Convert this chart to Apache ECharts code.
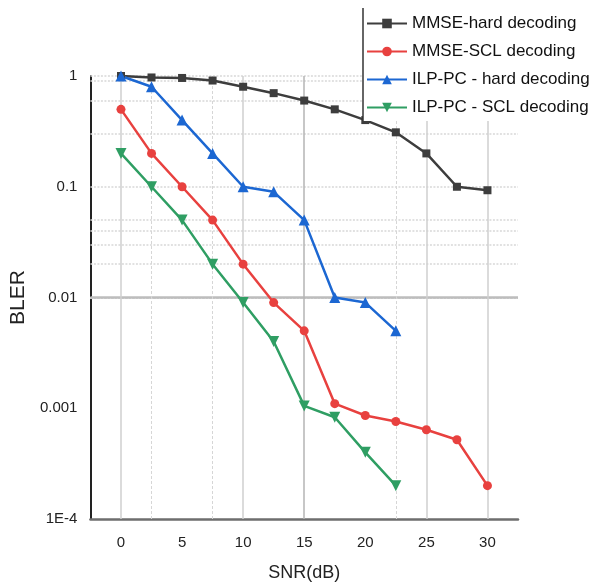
<!DOCTYPE html>
<html>
<head>
<meta charset="utf-8">
<script src="https://cdn.jsdelivr.net/npm/echarts@6/dist/echarts.min.js"></script>
<style>
html,body{margin:0;padding:0;background:#fff;}
#chart{width:613px;height:587px;}
</style>
</head>
<body>
<div id="chart"></div>
<script>
// ---- data ----
var snrLong = [0, 2.5, 5, 7.5, 10, 12.5, 15, 17.5, 20, 22.5, 25, 27.5, 30];
var snrShort = [0, 2.5, 5, 7.5, 10, 12.5, 15, 17.5, 20, 22.5];
var seriesNames = ['MMSE-hard decoding', 'MMSE-SCL decoding', 'ILP-PC - hard decoding', 'ILP-PC - SCL decoding'];
var mmseHard = [1, 0.97, 0.96, 0.91, 0.8, 0.7, 0.6, 0.5, 0.4, 0.31, 0.2, 0.1, 0.093];
var mmseScl = [0.5, 0.2, 0.1, 0.05, 0.02, 0.009, 0.005, 0.0011, 0.00086, 0.00076, 0.00064, 0.00052, 0.0002];
var ilpHard = [1, 0.8, 0.4, 0.2, 0.1, 0.09, 0.05, 0.01, 0.009, 0.005];
var ilpScl = [0.2, 0.1, 0.05, 0.02, 0.009, 0.004, 0.00105, 0.00083, 0.0004, 0.0002];
var yTickLabels = ['1E-4', '0.001', '0.01', '0.1', '1'];
var xTickValues = [0, 5, 10, 15, 20, 25, 30];
// grid reference lines
var hMinorLines = [1, 0.9, 0.6, 0.3, 0.1, 0.05, 0.04, 0.03, 0.02, 0.009, 0.008, 0.007, 0.006, 0.005, 0.003, 0.001];
var hMajorLines = [0.01];
var vSolidLines = [0, 10, 15, 25, 30];
var vDottedLines = [2.5, 7.5, 22.5];

function pairs(xs, ys) { return ys.map(function (v, i) { return [xs[i], v]; }); }

var colors = ['#3d3d3d', '#e8413f', '#1c67d2', '#2f9e63'];

var gridMarks = [];
hMinorLines.forEach(function (v) {
  gridMarks.push({ yAxis: v, lineStyle: { color: '#d8d8d8', width: 1.5, type: [2, 1.5] } });
});
hMajorLines.forEach(function (v) {
  gridMarks.push({ yAxis: v, lineStyle: { color: '#bdbdbd', width: 2.5, type: 'solid' } });
});
vSolidLines.forEach(function (v) {
  gridMarks.push({ xAxis: v, lineStyle: { color: v === 15 ? '#b5b5b5' : '#cfcfcf', width: 1.5, type: 'solid' } });
});
vDottedLines.forEach(function (v) {
  gridMarks.push({ xAxis: v, lineStyle: { color: '#d6d6d6', width: 1, type: [3, 2] } });
});

var chart = echarts.init(document.getElementById('chart'), null, { renderer: 'canvas' });

var lineBase = function (name, data, color, symbol, size) {
  return {
    name: name, type: 'line', data: data, z: 5,
    symbol: symbol, symbolSize: size,
    lineStyle: { color: color, width: 2.5 },
    itemStyle: { color: color },
    emphasis: { disabled: true },
    animation: false
  };
};

chart.setOption({
  animation: false,
  backgroundColor: '#ffffff',
  textStyle: { fontFamily: 'Liberation Sans, Arial, sans-serif' },
  grid: { left: 86, right: 95, top: 76, bottom: 68 },
  legend: {
    data: seriesNames,
    orient: 'vertical',
    left: 361, top: 10,
    itemWidth: 40, itemHeight: 12, itemGap: 11,
    textStyle: { fontSize: 17, color: '#111', lineHeight: 17, fontFamily: 'Liberation Sans, Arial, sans-serif' },
    selectedMode: false,
    z: 10
  },
  graphic: [
    { type: 'rect', z: 8, silent: true, shape: { x: 363, y: 8, width: 260, height: 113 }, style: { fill: '#ffffff' } },
    { type: 'line', z: 9, silent: true, shape: { x1: 363, y1: 8, x2: 363, y2: 121 }, style: { stroke: '#333', lineWidth: 1.5 } }
  ],
  xAxis: {
    type: 'value', min: -2.5, max: 32.5, interval: 2.5,
    name: 'SNR(dB)', nameLocation: 'middle', nameGap: 45,
    nameTextStyle: { fontSize: 18, color: '#222' },
    axisLine: { show: true, onZero: false, lineStyle: { color: '#6e6e6e', width: 2.5 } },
    axisTick: { show: false },
    splitLine: { show: false },
    axisLabel: {
      fontSize: 15, color: '#222', margin: 16,
      formatter: function (v) {
        var r = Math.round(v);
        return (Math.abs(v - r) < 1e-6 && xTickValues.indexOf(r) >= 0) ? String(r) : '';
      }
    }
  },
  yAxis: {
    type: 'log', logBase: 10, min: 1e-4, max: 1,
    name: 'BLER', nameLocation: 'middle', nameGap: 49, nameRotate: 90,
    nameTextStyle: { fontSize: 21, color: '#222' },
    axisLine: { show: true, onZero: false, lineStyle: { color: '#222', width: 2 } },
    axisTick: { show: false },
    splitLine: { show: false },
    axisLabel: {
      fontSize: 15, color: '#222', margin: 13,
      formatter: function (v) {
        var k = Math.round(Math.log10(v)) + 4;
        return yTickLabels[k] !== undefined ? yTickLabels[k] : '';
      }
    }
  },
  series: [
    {
      name: 'grid', type: 'line', data: [], z: 1, silent: true,
      markLine: { silent: true, symbol: ['none', 'none'], label: { show: false }, animation: false, data: gridMarks }
    },
    lineBase(seriesNames[0], pairs(snrLong, mmseHard), colors[0], 'rect', 8),
    lineBase(seriesNames[1], pairs(snrLong, mmseScl), colors[1], 'circle', 9),
    lineBase(seriesNames[2], pairs(snrShort, ilpHard), colors[2], 'triangle', 11),
    lineBase(seriesNames[3], pairs(snrShort, ilpScl), colors[3], 'path://M0,0 L10,0 L5,9 Z', 11)
  ]
});
</script>
</body>
</html>
